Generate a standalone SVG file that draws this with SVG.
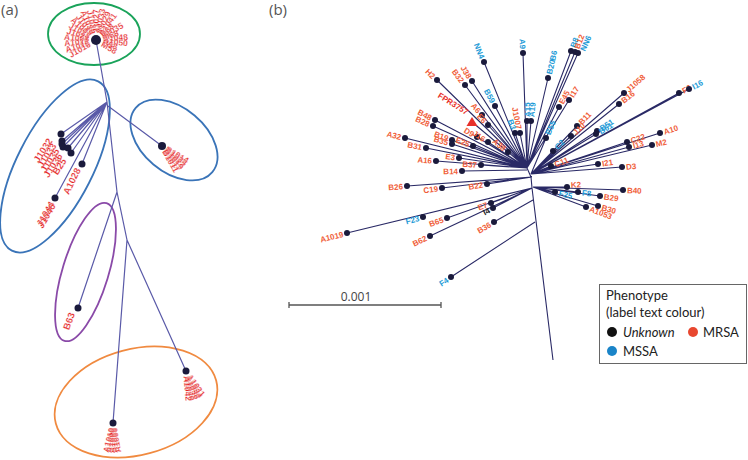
<svg xmlns="http://www.w3.org/2000/svg" width="748" height="460" viewBox="0 0 748 460">
<style>
.pl{font-family:"Open Sans","Noto Sans",sans-serif;font-size:15px;fill:#555}
.br{fill:none;stroke:#5a5aa8;stroke-width:1.2}
.bb{fill:none;stroke:#2a2a66;stroke-width:1.1}
.dot{fill:#1a1a3c}
.ra{font-family:"Liberation Sans",Arial,sans-serif;font-weight:bold;font-size:8.5px;fill:#e4231f;stroke:#fff;stroke-width:0.22}
.ra2{font-family:"Liberation Sans",Arial,sans-serif;font-weight:bold;font-size:9.5px;fill:#e4231f;stroke:#fff;stroke-width:0.2}
.t{font-family:"Liberation Sans",Arial,sans-serif;font-weight:bold;font-size:8px}
.r{fill:#f0603a}
.b{fill:#1e9bd7}
.k{fill:#222}
.e{text-anchor:end}
.lg{font-family:Lato,"Open Sans",sans-serif;font-size:13px;fill:#222}
.ell{fill:none;stroke-width:1.8}
</style>

<text class="pl" x="1" y="15">(a)</text>
<text class="pl" x="269" y="15">(b)</text>

<!-- Panel (a) cluster outlines -->
<g id="clusters-a">
<ellipse class="ell" cx="94" cy="34" rx="46" ry="31" stroke="#1aa35a"/>
<ellipse class="ell" cx="55" cy="166" rx="95" ry="38" transform="rotate(-63 55 166)" stroke="#3a74b8"/>
<ellipse class="ell" cx="174" cy="140" rx="50" ry="32" transform="rotate(40 174 140)" stroke="#3a74b8"/>
<ellipse class="ell" cx="85.5" cy="272" rx="72" ry="23" transform="rotate(-73 85.5 272)" stroke="#8a4aa8"/>
<ellipse class="ell" cx="136" cy="402" rx="83" ry="53" transform="rotate(-15 136 402)" stroke="#f08a40"/>
</g>

<!-- Panel (a) connectors -->
<g id="connectors-a">
<path class="br" d="M96 40 L107 102 L117 192 L127 240 L113 423 M127 240 L186 371 M117 192 L78 308 M107 102 L61 134 M107 102 L62 141 M107 102 L62 144 M107 102 L63 147 M107 102 L68 148 M107 102 L71 153 M107 102 L82 164 M107 102 L55 198 M108 106 L162 146"/>
</g>

<!-- Panel (a) nodes -->
<g id="a-top">
<g transform="translate(96,40)">
<text class="ra e" transform="rotate(-30)" x="-7" y="3">J1016</text>
<text class="ra e" transform="rotate(-18)" x="-7" y="3">A1016</text>
<text class="ra e" transform="rotate(-6)" x="-7" y="3">A1012</text>
<text class="ra e" transform="rotate(6)" x="-7" y="3">A1005</text>
<text class="ra e" transform="rotate(18)" x="-7" y="3">J1021</text>
<text class="ra e" transform="rotate(30)" x="-7" y="3">J1013</text>
<text class="ra e" transform="rotate(42)" x="-7" y="3">A1007</text>
<text class="ra e" transform="rotate(54)" x="-7" y="3">J1019</text>
<text class="ra e" transform="rotate(66)" x="-7" y="3">A1030</text>
<text class="ra e" transform="rotate(78)" x="-7" y="3">J1025</text>
<text class="ra" transform="rotate(-90)" x="7" y="3">J1027</text>
<text class="ra" transform="rotate(-78)" x="7" y="3">A1033</text>
<text class="ra" transform="rotate(-66)" x="7" y="3">J1029</text>
<text class="ra" transform="rotate(-54)" x="7" y="3">A1041</text>
<text class="ra" transform="rotate(-42)" x="7" y="3">B68</text>
<text class="ra" transform="rotate(-30)" x="7" y="3">J1035</text>
<text class="ra" transform="rotate(-18)" x="7" y="3">M68</text>
<text class="ra" transform="rotate(-6)" x="7" y="3">A1048</text>
<text class="ra" transform="rotate(6)" x="7" y="3">A1050</text>
<text class="ra" transform="rotate(18)" x="7" y="3">B58</text>
<text class="ra" transform="rotate(30)" x="7" y="3">M58</text>
</g>
<circle class="dot" cx="96" cy="40" r="5"/>
</g>

<g id="a-left">
<circle class="dot" cx="61" cy="134" r="3.5"/>
<circle class="dot" cx="62" cy="141" r="3.5"/>
<circle class="dot" cx="62" cy="144" r="3.5"/>
<circle class="dot" cx="63" cy="147" r="3.5"/>
<circle class="dot" cx="68" cy="148" r="3.5"/>
<circle class="dot" cx="71" cy="153" r="3.5"/>
<text class="ra2 e" transform="translate(53,141) rotate(-57)">J1032</text>
<text class="ra2 e" transform="translate(57,146) rotate(-57)">J1033</text>
<text class="ra2 e" transform="translate(60,151) rotate(-57)">J1035</text>
<text class="ra2 e" transform="translate(63,156) rotate(-57)">J1036</text>
<text class="ra2 e" transform="translate(67,161) rotate(-57)">B25</text>
</g>
<g id="a-A1028">
<circle class="dot" cx="82" cy="164" r="3.5"/>
<text class="ra2 e" transform="translate(81,170) rotate(-64)">A1028</text>
</g>
<g id="a-J1044">
<circle class="dot" cx="55" cy="198" r="3.5"/>
<text class="ra2 e" transform="translate(55,204) rotate(-60)">J1044</text>
<text class="ra2 e" transform="translate(56,206) rotate(-60)">J1046</text>
</g>
<g id="a-right">
<g transform="translate(162,146)">
<text class="ra" font-size="7.5" transform="rotate(30)" x="5" y="3">B1014</text>
<text class="ra" font-size="7.5" transform="rotate(36)" x="5" y="3">B1024</text>
<text class="ra" font-size="7.5" transform="rotate(42)" x="5" y="3">B1022</text>
<text class="ra" font-size="7.5" transform="rotate(48)" x="5" y="3">B1019</text>
<text class="ra" font-size="7.5" transform="rotate(54)" x="5" y="3">B1017</text>
<text class="ra" font-size="7.5" transform="rotate(60)" x="5" y="3">B1011</text>
</g>
<circle class="dot" cx="162" cy="146" r="4"/>
</g>
<g id="a-B63">
<circle class="dot" cx="78" cy="308" r="3.5"/>
<text class="ra2 e" transform="translate(75,314) rotate(-70)">B63</text>
</g>
<g id="a-bottom-right">
<g transform="translate(186,371)">
<text class="ra" transform="rotate(55)" x="5" y="3">A1031</text>
<text class="ra" transform="rotate(61)" x="5" y="3">A1034</text>
<text class="ra" transform="rotate(67)" x="5" y="3">A1036</text>
<text class="ra" transform="rotate(73)" x="5" y="3">A1038</text>
<text class="ra" transform="rotate(79)" x="5" y="3">A1040</text>
<text class="ra" transform="rotate(85)" x="5" y="3">A1042</text>
</g>
<circle class="dot" cx="186" cy="371" r="3.5"/>
</g>
<g id="a-bottom">
<g transform="translate(113,423)">
<text class="ra e" transform="rotate(-100)" x="-5" y="3">A1000</text>
<text class="ra e" transform="rotate(-94)" x="-5" y="3">A1003</text>
<text class="ra e" transform="rotate(-88)" x="-5" y="3">A1006</text>
<text class="ra e" transform="rotate(-82)" x="-5" y="3">A1009</text>
<text class="ra e" transform="rotate(-76)" x="-5" y="3">A1010</text>
</g>
<circle class="dot" cx="113" cy="423" r="3.5"/>
</g>

<!-- Panel (b) connectors -->
<g id="connectors-b">
<path class="bb" d="M527 168 L531 177 L532 188 L553 360
M527 168 L437 80 M527 168 L484 62 M527 168 L472 81 M527 168 L465 85 M527 168 L495 106 M527 168 L482 115 M527 168 L488 125 M527 168 L472 122 M527 168 L435 120 M527 168 L433 126 M527 168 L452 140 M527 168 L452 144 M527 168 L473 146 M527 168 L477 137 M527 168 L488 142 M527 168 L508 152 M527 168 L405 138 M527 168 L426 148 M527 168 L436 161 M527 168 L459 158 M527 168 L481 165 M527 170 L462 171 M527 168 L523 53 M527 168 L520 133 M527 168 L515 133 M527 168 L548 78 M527 168 L571 51 M527 168 L578 53 M527 168 L575 52 M527 168 L559 107 M527 168 L569 100 M527 168 L527 121 M527 168 L531 121
M531 174 L546 138 M531 174 L577 126 M531 174 L571 136 M531 174 L597 131 M531 174 L596 134 M531 174 L553 151 M531 174 L551 166 M531 174 L624 93 M531 174 L619 104 M531 174 L679 93 M531 174 L689 89 M531 174 L627 142 M531 174 L660 133 M531 174 L629 147 M531 174 L652 145 M531 174 L598 164 M531 174 L622 167
M533 187 L567 187 M533 187 L578 192 M533 187 L555 192 M533 187 L623 190 M533 187 L600 196 M533 187 L598 206 M533 187 L586 207
M532 177 L407 186 M532 177 L442 188 M532 177 L487 184
M532 188 L347 233 M532 188 L447 218 M532 188 L430 236 M532 188 L491 203 M532 188 L493 208
M533 200 L494 222 M535 222 L451 277"/>
</g>

<!-- Panel (b) leaves, left side -->
<g id="b-H2"><circle class="dot" cx="437" cy="80" r="3"/><text class="t r e" transform="translate(437,80) rotate(44.4)" x="-4" y="3">H2</text></g>
<g id="b-NN4"><circle class="dot" cx="484" cy="62" r="3"/><text class="t b e" transform="translate(484,62) rotate(67.9)" x="-4" y="3">NN4</text></g>
<g id="b-J38"><circle class="dot" cx="472" cy="81" r="3"/><text class="t r e" transform="translate(472,81) rotate(57.7)" x="-4" y="3">J38</text></g>
<g id="b-B32"><circle class="dot" cx="465" cy="85" r="3"/><text class="t r e" transform="translate(465,85) rotate(53.2)" x="-4" y="3">B32</text></g>
<g id="b-B59"><circle class="dot" cx="495" cy="106" r="3"/><text class="t b e" transform="translate(495,106) rotate(62.7)" x="-4" y="3">B59</text></g>
<g id="b-A6"><circle class="dot" cx="482" cy="115" r="3"/><text class="t r e" transform="translate(482,115) rotate(49.7)" x="-4" y="3">A6</text></g>
<g id="b-E6"><circle class="dot" cx="488" cy="125" r="3"/><text class="t r e" transform="translate(488,125) rotate(47.8)" x="-4" y="3">E6</text></g>
<g id="b-FPR3757"><polygon points="472,117 466.5,126 477.5,126" fill="#e8302a"/><text class="t e" fill="#e8302a" font-weight="normal" transform="translate(466,115) rotate(32)">FPR3757</text></g>
<g id="b-B48"><circle class="dot" cx="435" cy="120" r="3"/><text class="t r e" transform="translate(435,120) rotate(27.6)" x="-4" y="3">B48</text></g>
<g id="b-B28"><circle class="dot" cx="433" cy="126" r="3"/><text class="t r e" transform="translate(433,126) rotate(24.1)" x="-4" y="3">B28</text></g>
<g id="b-B19"><circle class="dot" cx="452" cy="140" r="3"/><text class="t r e" transform="translate(452,140) rotate(20.5)" x="-4" y="3">B19</text></g>
<g id="b-B35"><circle class="dot" cx="452" cy="144" r="3"/><text class="t r e" transform="translate(452,144) rotate(17.8)" x="-4" y="3">B35</text></g>
<g id="b-E25"><circle class="dot" cx="473" cy="146" r="3"/><text class="t r e" transform="translate(473,146) rotate(22.2)" x="-4" y="3">E25</text></g>
<g id="b-D9"><circle class="dot" cx="477" cy="137" r="3"/><text class="t r e" transform="translate(477,137) rotate(31.8)" x="-4" y="3">D9</text></g>
<g id="b-J16"><circle class="dot" cx="488" cy="142" r="3"/><text class="t r e" transform="translate(488,142) rotate(33.7)" x="-4" y="3">J16</text></g>
<g id="b-A38"><circle class="dot" cx="508" cy="152" r="3"/><text class="t r e" transform="translate(508,152) rotate(40)" x="-4" y="3">A38</text></g>
<g id="b-A32"><circle class="dot" cx="405" cy="138" r="3"/><text class="t r e" transform="translate(405,138) rotate(13.8)" x="-4" y="3">A32</text></g>
<g id="b-B31"><circle class="dot" cx="426" cy="148" r="3"/><text class="t r e" transform="translate(426,148) rotate(11.2)" x="-4" y="3">B31</text></g>
<g id="b-A16"><circle class="dot" cx="436" cy="161" r="3"/><text class="t r e" transform="translate(436,161) rotate(4.4)" x="-4" y="3">A16</text></g>
<g id="b-E3"><circle class="dot" cx="459" cy="158" r="3"/><text class="t r e" transform="translate(459,158) rotate(8.4)" x="-4" y="3">E3</text></g>
<g id="b-B37"><circle class="dot" cx="481" cy="165" r="3"/><text class="t r e" transform="translate(481,165) rotate(3.7)" x="-4" y="3">B37</text></g>
<g id="b-B14"><circle class="dot" cx="462" cy="171" r="3"/><text class="t r e" transform="translate(462,171) rotate(-1)" x="-4" y="3">B14</text></g>
<g id="b-A9"><circle class="dot" cx="523" cy="53" r="3"/><text class="t b e" transform="translate(523,53) rotate(88)" x="-4" y="3">A9</text></g>
<g id="b-J1007"><circle class="dot" cx="520" cy="133" r="3"/><text class="t r e" transform="translate(520,133) rotate(78.7)" x="-4" y="3">J1007</text></g>
<g id="b-B3"><circle class="dot" cx="515" cy="133" r="3"/><text class="t b e" transform="translate(515,133) rotate(71)" x="-4" y="3">B3</text></g>
<g id="b-B26"><circle class="dot" cx="407" cy="186" r="3"/><text class="t r e" transform="translate(407,186) rotate(-4.1)" x="-4" y="3">B26</text></g>
<g id="b-C19"><circle class="dot" cx="442" cy="188" r="3"/><text class="t r e" transform="translate(442,188) rotate(-7)" x="-4" y="3">C19</text></g>
<g id="b-B22"><circle class="dot" cx="487" cy="184" r="3"/><text class="t r e" transform="translate(487,184) rotate(-8.8)" x="-4" y="3">B22</text></g>
<g id="b-A1019"><circle class="dot" cx="347" cy="233" r="3"/><text class="t r e" transform="translate(347,233) rotate(-13.7)" x="-4" y="3">A1019</text></g>
<g id="b-F23"><circle class="dot" cx="423" cy="217" r="3"/><text class="t b e" transform="translate(423,217) rotate(-14.9)" x="-4" y="3">F23</text></g>
<g id="b-B65"><circle class="dot" cx="447" cy="218" r="3"/><text class="t r e" transform="translate(447,218) rotate(-19.4)" x="-4" y="3">B65</text></g>
<g id="b-B62"><circle class="dot" cx="430" cy="236" r="3"/><text class="t r e" transform="translate(430,236) rotate(-25.2)" x="-4" y="3">B62</text></g>
<g id="b-E7"><circle class="dot" cx="491" cy="203" r="3"/><text class="t r e" transform="translate(491,203) rotate(-20.1)" x="-4" y="3">E7</text></g>
<g id="b-I4"><circle class="dot" cx="493" cy="208" r="3"/><text class="t k e" transform="translate(493,208) rotate(-27.1)" x="-4" y="3">I4</text></g>
<g id="b-B36"><circle class="dot" cx="494" cy="222" r="3"/><text class="t r e" transform="translate(494,222) rotate(-29.4)" x="-4" y="3">B36</text></g>
<g id="b-F4"><circle class="dot" cx="451" cy="277" r="3"/><text class="t b e" transform="translate(451,277) rotate(-33.2)" x="-4" y="3">F4</text></g>

<!-- Panel (b) leaves, right side -->
<g id="b-B20"><circle class="dot" cx="548" cy="78" r="3"/><text class="t b" transform="translate(548,78) rotate(-76.9)" x="4" y="3">B20</text><text class="t b" transform="translate(548,78) rotate(-76.9)" x="18" y="3">B6</text></g>
<g id="b-B8"><circle class="dot" cx="571" cy="51" r="3"/><text class="t b" transform="translate(571,51) rotate(-69.4)" x="4" y="3">B8</text></g>
<g id="b-B12"><circle class="dot" cx="575" cy="52" r="3"/><text class="t r" transform="translate(575,52) rotate(-68)" x="4" y="3">B12</text></g>
<g id="b-NN6"><circle class="dot" cx="578" cy="53" r="3"/><text class="t b" transform="translate(578,53) rotate(-66.1)" x="4" y="6">NN6</text></g>
<g id="b-E45"><circle class="dot" cx="559" cy="107" r="3"/><text class="t r" transform="translate(559,107) rotate(-62.3)" x="4" y="3">E45</text></g>
<g id="b-I17"><circle class="dot" cx="569" cy="100" r="3"/><text class="t r" transform="translate(569,100) rotate(-58.3)" x="4" y="3">I17</text></g>
<g id="b-A15"><circle class="dot" cx="527" cy="121" r="3"/><text class="t b" transform="translate(527,121) rotate(-90)" x="4" y="3">A15</text></g>
<g id="b-A19"><circle class="dot" cx="531" cy="121" r="3"/><text class="t b" transform="translate(531,121) rotate(-85)" x="4" y="3">A19</text></g>
<g id="b-B55"><circle class="dot" cx="546" cy="138" r="3"/><text class="t b" transform="translate(546,138) rotate(-67.4)" x="4" y="3">B55</text></g>
<g id="b-B11"><circle class="dot" cx="577" cy="126" r="3"/><text class="t r" transform="translate(577,126) rotate(-46.2)" x="4" y="3">B11</text></g>
<g id="b-J10"><circle class="dot" cx="571" cy="136" r="3"/><text class="t r" transform="translate(571,136) rotate(-43.5)" x="4" y="3">J10</text></g>
<g id="b-B51"><circle class="dot" cx="597" cy="131" r="3"/><text class="t b" transform="translate(597,131) rotate(-33.1)" x="4" y="3">B51</text></g>
<g id="b-B61"><circle class="dot" cx="596" cy="134" r="3"/><text class="t b" transform="translate(596,134) rotate(-31)" x="4" y="3">B61</text></g>
<g id="b-C2"><circle class="dot" cx="553" cy="151" r="3"/><text class="t b" transform="translate(553,151) rotate(-46.3)" x="4" y="3">C2</text></g>
<g id="b-C11"><circle class="dot" cx="551" cy="166" r="3"/><text class="t r" transform="translate(551,166) rotate(-21.8)" x="4" y="3">C11</text></g>
<g id="b-J1058"><circle class="dot" cx="624" cy="93" r="3"/><text class="t r" transform="translate(624,93) rotate(-41)" x="4" y="3">J1058</text></g>
<g id="b-B16"><circle class="dot" cx="619" cy="104" r="3"/><text class="t r" transform="translate(619,104) rotate(-38.5)" x="4" y="3">B16</text></g>
<g id="b-F6"><circle class="dot" cx="679" cy="93" r="3"/><text class="t r" transform="translate(679,93) rotate(-28.7)" x="4" y="3">F6</text></g>
<g id="b-I16"><circle class="dot" cx="689" cy="89" r="3"/><text class="t b" transform="translate(689,89) rotate(-28.3)" x="4" y="3">I16</text></g>
<g id="b-C22"><circle class="dot" cx="627" cy="142" r="3"/><text class="t r" transform="translate(627,142) rotate(-18.4)" x="4" y="3">C22</text></g>
<g id="b-A10"><circle class="dot" cx="660" cy="133" r="3"/><text class="t r" transform="translate(660,133) rotate(-17.6)" x="4" y="3">A10</text></g>
<g id="b-I13"><circle class="dot" cx="629" cy="147" r="3"/><text class="t r" transform="translate(629,147) rotate(-15.4)" x="4" y="3">I13</text></g>
<g id="b-M2"><circle class="dot" cx="652" cy="145" r="3"/><text class="t r" transform="translate(652,145) rotate(-13.5)" x="4" y="3">M2</text></g>
<g id="b-I21"><circle class="dot" cx="598" cy="164" r="3"/><text class="t r" transform="translate(598,164) rotate(-8.5)" x="4" y="3">I21</text></g>
<g id="b-D3"><circle class="dot" cx="622" cy="167" r="3"/><text class="t r" transform="translate(622,167) rotate(-4.4)" x="4" y="3">D3</text></g>
<g id="b-K2"><circle class="dot" cx="567" cy="187" r="3"/><text class="t r" transform="translate(567,187) rotate(-3)" x="4" y="1">K2</text></g>
<g id="b-F8"><circle class="dot" cx="578" cy="192" r="3"/><text class="t b" transform="translate(578,192) rotate(6.3)" x="4" y="3">F8</text></g>
<g id="b-F25"><circle class="dot" cx="555" cy="192" r="3"/><text class="t b" transform="translate(555,192) rotate(12.8)" x="4" y="3">F25</text></g>
<g id="b-B40"><circle class="dot" cx="623" cy="190" r="3"/><text class="t r" transform="translate(623,190) rotate(1.9)" x="4" y="3">B40</text></g>
<g id="b-B29"><circle class="dot" cx="600" cy="196" r="3"/><text class="t r" transform="translate(600,196) rotate(7.6)" x="4" y="3">B29</text></g>
<g id="b-B30"><circle class="dot" cx="598" cy="206" r="3"/><text class="t r" transform="translate(598,206) rotate(16.3)" x="4" y="3">B30</text></g>
<g id="b-A1053"><circle class="dot" cx="586" cy="207" r="3"/><text class="t r" transform="translate(586,207) rotate(20.7)" x="4" y="3">A1053</text></g>

<!-- Scale bar -->
<g id="scale-bar">
<path d="M289 305 H441 M289 302 V308 M441 302 V308" fill="none" stroke="#555" stroke-width="1.3"/>
<text x="356" y="301" text-anchor="middle" font-family="Open Sans, Noto Sans, sans-serif" font-size="12" fill="#444">0.001</text>
</g>

<!-- Legend -->
<g id="legend">
<rect x="599.5" y="284.5" width="147" height="79" fill="#fff" stroke="#666" stroke-width="1"/>
<text class="lg" x="606" y="300">Phenotype</text>
<text class="lg" x="606" y="316.5">(label text colour)</text>
<circle cx="612" cy="332" r="5" fill="#111"/>
<text class="lg" x="623" y="336.5" font-style="italic">Unknown</text>
<circle cx="693" cy="332" r="5" fill="#e8472f"/>
<text class="lg" x="703" y="336.5">MRSA</text>
<circle cx="612" cy="351" r="5" fill="#1a84c8"/>
<text class="lg" x="623" y="355.5">MSSA</text>
</g>
</svg>
